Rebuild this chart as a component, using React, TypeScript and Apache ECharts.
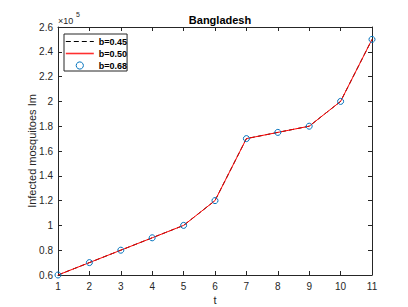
import React, { useEffect, useRef } from "react";
import * as echarts from "echarts";

const tValues = [1, 2, 3, 4, 5, 6, 7, 8, 9, 10, 11];
const imB045 = [60000, 70000, 80000, 90000, 100000, 120000, 170000, 175000, 180000, 200000, 250000];
const imB050 = [60000, 70000, 80000, 90000, 100000, 120000, 170000, 175000, 180000, 200000, 250000];
const imB068 = [60000, 70000, 80000, 90000, 100000, 120000, 170000, 175000, 180000, 200000, 250000];
const seriesNames = ["b=0.45", "b=0.50", "b=0.68"];

const FONT = "'Liberation Sans', Arial, Helvetica, sans-serif";
const AXIS = "#262626";

const pairs = (ys: number[]) => tValues.map((t, i) => [t, ys[i]]);

export default function App() {
  const ref = useRef<HTMLDivElement>(null);
  useEffect(() => {
    if (!ref.current) return;
    const chart = echarts.init(ref.current, null, { renderer: "svg" });
    const axisCommon = {
      axisLine: { show: true, onZero: false, lineStyle: { color: AXIS, width: 1 } },
      axisTick: { show: true, inside: true, length: 4, lineStyle: { color: AXIS } },
      splitLine: { show: false },
    };
    chart.setOption({
      animation: false,
      backgroundColor: "#ffffff",
      textStyle: { fontFamily: FONT },
      title: {
        text: "Bangladesh",
        left: 215,
        textAlign: "center",
        top: 9,
        textStyle: { fontFamily: FONT, fontSize: 11, fontWeight: "bold", color: "#000" },
      },
      grid: { left: 58, right: 36, top: 27, bottom: 32, containLabel: false, outerBoundsMode: "none" },
      legend: {
        orient: "vertical",
        left: 64,
        top: 34,
        padding: [3, 0, 1, 1],
        itemWidth: 28,
        itemHeight: 9,
        itemGap: 3,
        backgroundColor: "#ffffff",
        borderColor: AXIS,
        borderWidth: 1,
        borderRadius: 0,
        itemStyle: { borderWidth: 1 },
        lineStyle: { width: 1, color: "inherit", type: "inherit" },
        textStyle: { fontFamily: FONT, fontSize: 9, fontWeight: "bold", color: "#000" },
        data: [
          {
            name: seriesNames[0],
            itemStyle: { opacity: 0 },
            lineStyle: { color: "#000000", type: [5, 3], width: 1 },
          },
          {
            name: seriesNames[1],
            itemStyle: { opacity: 0 },
            lineStyle: { color: "#ff3030", type: "solid", width: 1.6 },
          },
          { name: seriesNames[2], lineStyle: { opacity: 0 } },
        ],
      },
      xAxis: [
        {
          type: "value",
          position: "bottom",
          min: 1,
          max: 11,
          interval: 1,
          name: "t",
          nameLocation: "middle",
          nameGap: 19,
          nameMoveOverlap: false,
          nameTextStyle: { fontFamily: FONT, fontSize: 11, color: "#262626" },
          axisLabel: { margin: 6, fontFamily: FONT, fontSize: 10, color: "#262626" },
          ...axisCommon,
        },
        {
          type: "value",
          position: "top",
          min: 1,
          max: 11,
          interval: 1,
          axisLabel: { show: false },
          ...axisCommon,
        },
      ],
      yAxis: [
        {
          type: "value",
          position: "left",
          min: 60000,
          max: 260000,
          interval: 20000,
          name: "Infected mosquitoes Im",
          nameLocation: "middle",
          nameGap: 21,
          nameMoveOverlap: false,
          nameTextStyle: { fontFamily: FONT, fontSize: 11, color: "#262626" },
          axisLabel: {
            margin: 5,
            fontFamily: FONT,
            fontSize: 10,
            color: "#262626",
            formatter: (v: number) => String(parseFloat((v / 1e5).toFixed(1))),
          },
          ...axisCommon,
        },
        {
          type: "value",
          position: "right",
          min: 60000,
          max: 260000,
          interval: 20000,
          axisLabel: { show: false },
          ...axisCommon,
        },
      ],
      graphic: [
        {
          type: "text",
          left: 58,
          top: 16,
          style: { text: "×10", fontFamily: FONT, fontSize: 9, fill: "#262626" },
        },
        {
          type: "text",
          left: 76,
          top: 11,
          style: { text: "5", fontFamily: FONT, fontSize: 7, fill: "#262626" },
        },
      ],
      series: [
        {
          name: seriesNames[0],
          type: "line",
          data: pairs(imB045),
          symbol: "none",
          lineStyle: { color: "#000000", width: 1, type: [5, 3] },
          itemStyle: { color: "#000000" },
          z: 2,
        },
        {
          name: seriesNames[1],
          type: "line",
          data: pairs(imB050),
          symbol: "none",
          lineStyle: { color: "#ff0000", width: 1 },
          itemStyle: { color: "#ff0000" },
          z: 3,
        },
        {
          name: seriesNames[2],
          type: "line",
          data: pairs(imB068),
          symbol: "circle",
          symbolSize: 6,
          lineStyle: { width: 0, opacity: 0 },
          itemStyle: { color: "rgba(0,0,0,0)", borderColor: "#0072BD", borderWidth: 1 },
          z: 4,
        },
      ],
    });
    return () => chart.dispose();
  }, []);
  return (
    <div
      ref={ref}
      style={{ position: "fixed", left: 0, top: 0, width: 408, height: 307, background: "#fff" }}
    />
  );
}
